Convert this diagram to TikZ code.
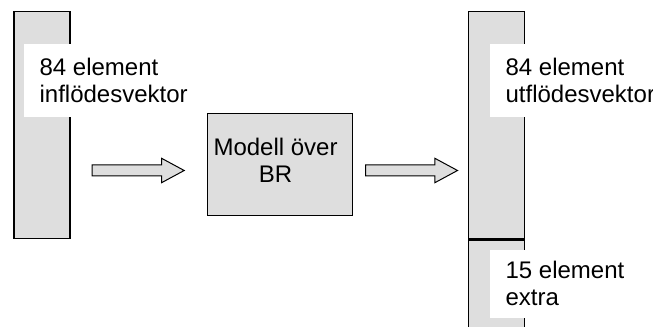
\documentclass[tikz,border=0pt]{standalone}
\usepackage{fontspec}
\setmainfont{Liberation Sans}
\usetikzlibrary{shapes.arrows}
\definecolor{barfill}{HTML}{DEDEDE}
\begin{document}
\begin{tikzpicture}[x=0.75pt, y=-0.75pt,
    every node/.style={font=\fontsize{18}{20.5}\selectfont},
    bar/.style={draw, fill=barfill, line width=1.1pt, minimum width=42pt, inner sep=0pt, anchor=north west},
    tag/.style={fill=white, align=left, inner xsep=11.5pt, inner ysep=0pt, anchor=north west},
    flow/.style={single arrow, draw, fill=barfill, line width=0.75pt, inner sep=0pt,
      text height=7.5pt, text depth=0pt, minimum height=69pt,
      single arrow head extend=5pt, single arrow tip angle=56.7, anchor=tail}]
  \useasboundingbox (0, 0) rectangle (653, 327);
  \node [bar, minimum height=170.25pt] (inbar) at (13.3, 10.7) {};
  \node [tag, minimum height=55pt] (intag) at (24, 43.3) {84 element\\inflödesvektor};
  \node [draw, fill=barfill, line width=0.75pt, minimum width=108.75pt, minimum height=76.3pt, anchor=north west] (model) at (206.7, 113.3) {};
  \node [align=center, inner sep=0pt] (modeltext) at ([xshift=-3.1pt, yshift=3.1pt]model.center) {Modell över\\BR};
  \node [flow] (inflow) at (91.7, 170.5) {};
  \node [flow] (outflow) at (365, 170.5) {};
  \node [bar, minimum height=170.25pt] (outbar) at (467.7, 10.7) {};
  \node [bar, minimum height=80pt] (extrabar) at (outbar.south west) {};
  \node [tag, minimum height=55pt] (outtag) at (490, 43.3) {84 element\\utflödesvektor};
  \node [tag, minimum height=51pt] (extratag) at (490, 249.3) {15 element\\extra};
\end{tikzpicture}
\end{document}
